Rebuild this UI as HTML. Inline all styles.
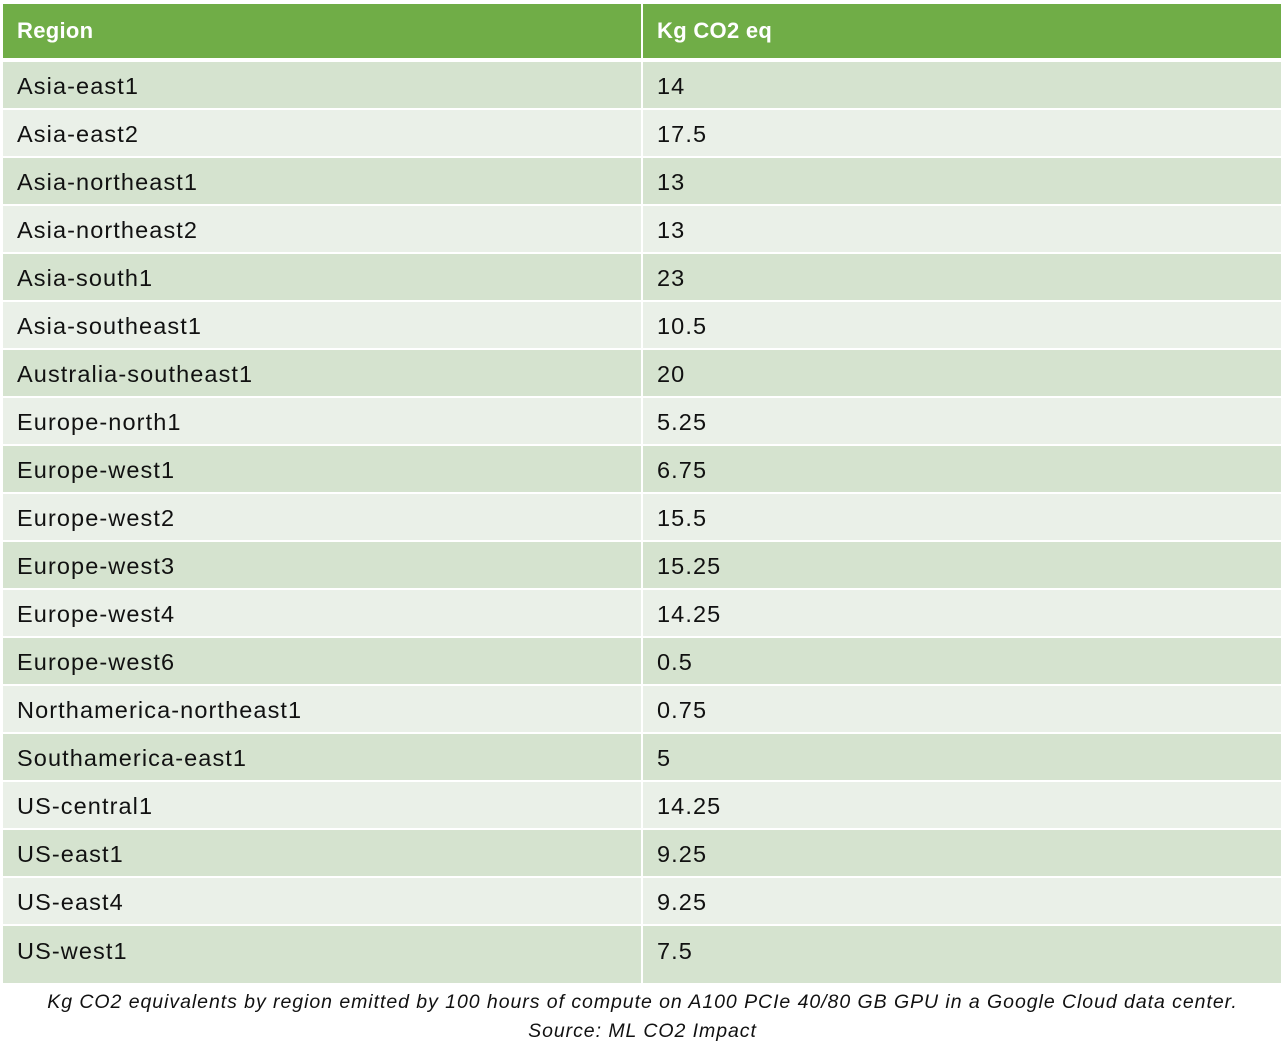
<!DOCTYPE html>
<html><head><meta charset="utf-8"><style>
body{margin:0;width:1285px;height:1048px;background:#fff;position:relative;overflow:hidden;font-family:"Liberation Sans",sans-serif}
.c{position:absolute;box-sizing:border-box;padding-left:14px;padding-top:2px;font-size:23.5px;color:#111;display:flex;align-items:center;letter-spacing:1.1px}
.h{background:#70AD47;color:#fff;font-weight:bold;font-size:22px;letter-spacing:0.3px;padding-top:0}
.d{background:#D5E3CF}.l{background:#EAF0E8}
.cap{position:absolute;left:0;width:1285px;text-align:center;font-style:italic;font-size:19.5px;color:#111;letter-spacing:0.95px}
</style></head><body>
<div class="c h" style="left:3px;top:4px;width:638px;height:54px">Region</div>
<div class="c h" style="left:643px;top:4px;width:638px;height:54px">Kg CO2 eq</div>
<div id="rows"></div>
<div class="cap" style="top:991px">Kg CO2 equivalents by region emitted by 100 hours of compute on A100 PCIe 40/80 GB GPU in a Google Cloud data center.</div>
<div class="cap" style="top:1020px">Source: ML CO2 Impact</div>
<script>
var d=[["Asia-east1","14"],["Asia-east2","17.5"],["Asia-northeast1","13"],["Asia-northeast2","13"],["Asia-south1","23"],["Asia-southeast1","10.5"],["Australia-southeast1","20"],["Europe-north1","5.25"],["Europe-west1","6.75"],["Europe-west2","15.5"],["Europe-west3","15.25"],["Europe-west4","14.25"],["Europe-west6","0.5"],["Northamerica-northeast1","0.75"],["Southamerica-east1","5"],["US-central1","14.25"],["US-east1","9.25"],["US-east4","9.25"],["US-west1","7.5"]];
var h="";
for(var i=0;i<d.length;i++){var t=62+48*i,ht=(i==18?57:46),cl=i%2?"l":"d",pad=(i==18?"padding-bottom:9px;":"");
h+='<div class="c '+cl+'" style="'+pad+'left:3px;top:'+t+'px;width:638px;height:'+ht+'px">'+d[i][0]+'</div>';
h+='<div class="c '+cl+'" style="'+pad+'left:643px;top:'+t+'px;width:638px;height:'+ht+'px">'+d[i][1]+'</div>';}
document.getElementById("rows").innerHTML=h;
</script>
</body></html>
